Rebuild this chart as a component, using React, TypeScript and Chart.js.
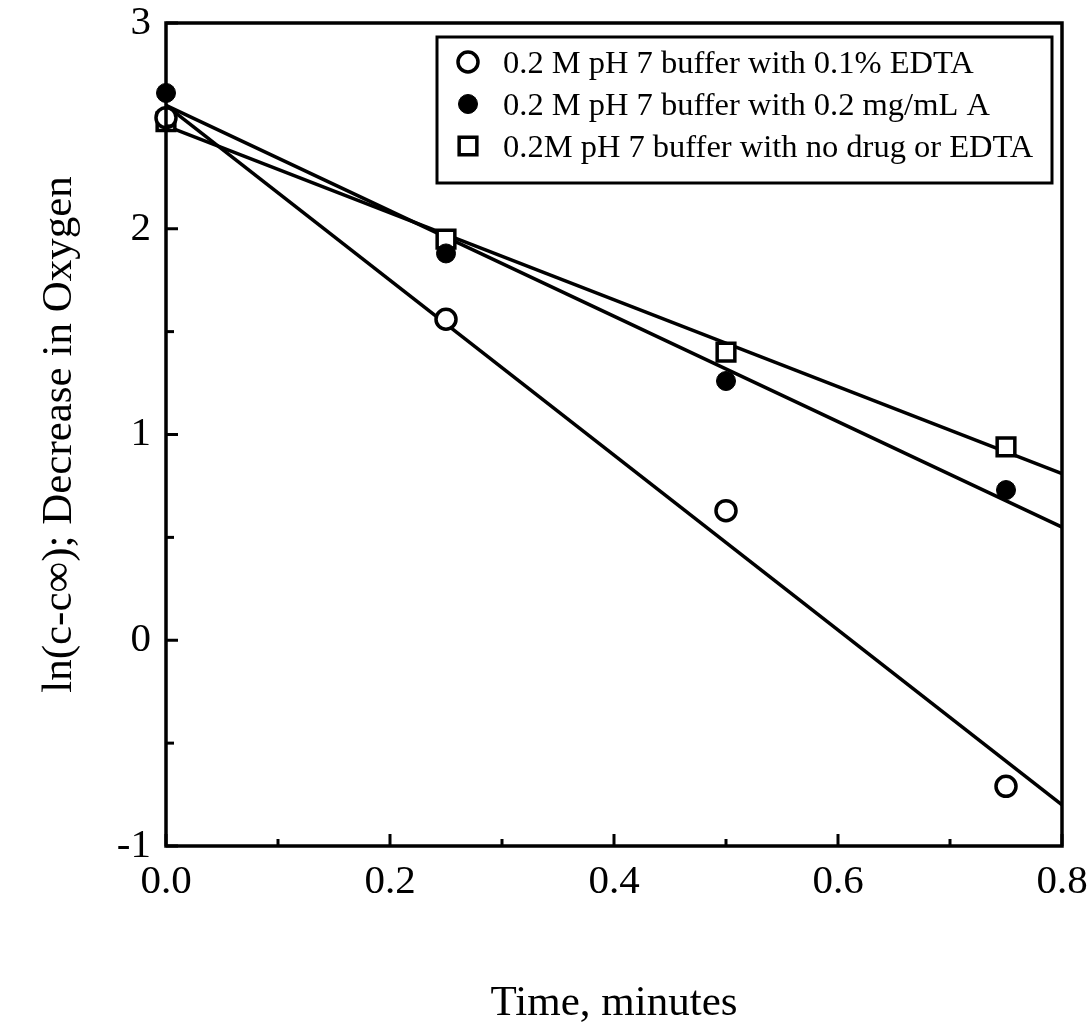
import React, { useEffect, useRef } from 'react';
import { Chart, registerables } from 'chart.js';

Chart.register(...registerables);

// ---- data ----
const timeMinutes = [0, 0.25, 0.5, 0.75];
const edtaValues = [2.54, 1.56, 0.63, -0.71];
const drugValues = [2.66, 1.88, 1.26, 0.73];
const noDrugValues = [2.52, 1.95, 1.4, 0.94];

const fitTimes = [0, 0.8];
const edtaFit = [2.6, -0.8];
const drugFit = [2.6, 0.55];
const noDrugFit = [2.5, 0.81];

const seriesLabels = [
  '0.2 M pH 7 buffer with 0.1% EDTA',
  '0.2 M pH 7 buffer with 0.2 mg/mL A',
  '0.2M pH 7 buffer with no drug or EDTA',
];
const xTickLabels = ['0.0', '0.2', '0.4', '0.6', '0.8'];
const yTickLabels = ['-1', '0', '1', '2', '3'];
const xTitle = 'Time, minutes';
const yTitle = 'ln(c-c\u221E); Decrease in Oxygen';

const FONT = '"Liberation Serif", "Times New Roman", Times, serif';

const pts = (xs: number[], ys: number[]) => xs.map((x, i) => ({ x, y: ys[i] }));

function drawMarker(ctx: CanvasRenderingContext2D, ds: any, x: number, y: number) {
  ctx.save();
  ctx.lineWidth = ds.pointBorderWidth;
  ctx.strokeStyle = ds.pointBorderColor;
  ctx.fillStyle = ds.pointBackgroundColor;
  const r = ds.pointRadius;
  ctx.beginPath();
  if (ds.pointStyle === 'rect') {
    const s = Math.SQRT1_2 * r;
    ctx.rect(x - s, y - s, 2 * s, 2 * s);
  } else {
    ctx.arc(x, y, r, 0, Math.PI * 2);
  }
  ctx.fill();
  if (ds.pointBorderWidth > 0) ctx.stroke();
  ctx.restore();
}

const frameTicksLegend = {
  id: 'frameTicksLegend',
  afterDraw(chart: any) {
    const { ctx, chartArea: a, scales } = chart;
    ctx.save();
    ctx.strokeStyle = '#000';
    ctx.lineWidth = 3.5;
    ctx.strokeRect(a.left, a.top, a.right - a.left, a.bottom - a.top);

    ctx.lineWidth = 3;
    scales.x.ticks.forEach((t: any) => {
      const px = scales.x.getPixelForValue(t.value);
      const len = t.label ? 12 : 7;
      ctx.beginPath();
      ctx.moveTo(px, a.bottom);
      ctx.lineTo(px, a.bottom - len);
      ctx.stroke();
    });
    scales.y.ticks.forEach((t: any) => {
      const py = scales.y.getPixelForValue(t.value);
      const len = t.label ? 12 : 8;
      ctx.beginPath();
      ctx.moveTo(a.left, py);
      ctx.lineTo(a.left + len, py);
      ctx.stroke();
    });

    // legend box
    const bx = a.left + 271;
    const by = a.top + 14;
    const bw = 615;
    const bh = 146;
    ctx.fillStyle = '#fff';
    ctx.fillRect(bx, by, bw, bh);
    ctx.lineWidth = 3;
    ctx.strokeRect(bx, by, bw, bh);
    ctx.font = `32.5px ${FONT}`;
    ctx.textBaseline = 'middle';
    ctx.textAlign = 'left';
    const rows = [25, 67, 109];
    for (let i = 0; i < 3; i++) {
      const ds = chart.data.datasets[i];
      const y = by + rows[i];
      drawMarker(ctx, ds, bx + 31, y);
      ctx.fillStyle = '#000';
      ctx.fillText(ds.label, bx + 66, y + 2);
    }
    ctx.restore();
  },
};

export default function App() {
  const ref = useRef<HTMLCanvasElement | null>(null);

  useEffect(() => {
    if (!ref.current) return;
    const lineDs = (data: number[]) => ({
      type: 'line' as const,
      data: pts(fitTimes, data),
      borderColor: '#000',
      borderWidth: 3.5,
      pointRadius: 0,
      fill: false,
      tension: 0,
      clip: false as any,
    });
    const chart = new Chart(ref.current, {
      type: 'scatter',
      data: {
        datasets: [
          {
            label: seriesLabels[0],
            data: pts(timeMinutes, edtaValues),
            pointStyle: 'circle',
            pointRadius: 10,
            pointBorderWidth: 3.5,
            pointBorderColor: '#000',
            pointBackgroundColor: '#fff',
            clip: false as any,
          },
          {
            label: seriesLabels[1],
            data: pts(timeMinutes, drugValues),
            pointStyle: 'circle',
            pointRadius: 9.5,
            pointBorderWidth: 1,
            pointBorderColor: '#000',
            pointBackgroundColor: '#000',
            clip: false as any,
          },
          {
            label: seriesLabels[2],
            data: pts(timeMinutes, noDrugValues),
            pointStyle: 'rect',
            pointRadius: 12.5,
            pointBorderWidth: 3.5,
            pointBorderColor: '#000',
            pointBackgroundColor: '#fff',
            clip: false as any,
          },
          lineDs(edtaFit),
          lineDs(drugFit),
          lineDs(noDrugFit),
        ] as any,
      },
      options: {
        animation: false,
        responsive: true,
        maintainAspectRatio: false,
        layout: { padding: { top: 23, right: 26, left: 0, bottom: 0 } },
        plugins: {
          legend: { display: false },
          tooltip: { enabled: false },
        },
        scales: {
          x: {
            type: 'linear',
            min: 0,
            max: 0.8,
            grid: { display: false },
            border: { display: false },
            ticks: {
              stepSize: 0.1,
              padding: 4,
              color: '#000',
              font: { family: FONT, size: 41 },
              maxRotation: 0,
              autoSkip: false,
              callback: (v: any) => {
                const k = Number(v) * 5;
                const r = Math.round(k);
                return Math.abs(k - r) < 1e-6 ? xTickLabels[r] : '';
              },
            },
            title: {
              display: true,
              text: xTitle,
              color: '#000',
              font: { family: FONT, size: 43, lineHeight: 1 },
              padding: { top: 0, bottom: 3 },
            },
            afterFit: (s: any) => {
              s.height = 182;
              s.paddingLeft = 0;
              s.paddingRight = 0;
            },
          },
          y: {
            type: 'linear',
            min: -1,
            max: 3,
            grid: { display: false },
            border: { display: false },
            ticks: {
              stepSize: 0.5,
              padding: 7,
              color: '#000',
              font: { family: FONT, size: 41 },
              autoSkip: false,
              callback: (v: any) => {
                const n = Number(v);
                return Number.isInteger(n) ? yTickLabels[n + 1] : '';
              },
            },
            title: {
              display: true,
              text: yTitle,
              color: '#000',
              font: { family: FONT, size: 43, lineHeight: 1 },
              padding: { top: 38, bottom: 0 },
            },
            afterFit: (s: any) => {
              s.width = 166;
              s.paddingTop = 0;
              s.paddingBottom = 0;
            },
          },
        },
      } as any,
      plugins: [frameTicksLegend],
    });
    return () => chart.destroy();
  }, []);

  return (
    <div style={{ position: 'absolute', left: 0, top: 0, width: 1088, height: 1028, background: '#fff' }}>
      <canvas ref={ref} />
    </div>
  );
}
